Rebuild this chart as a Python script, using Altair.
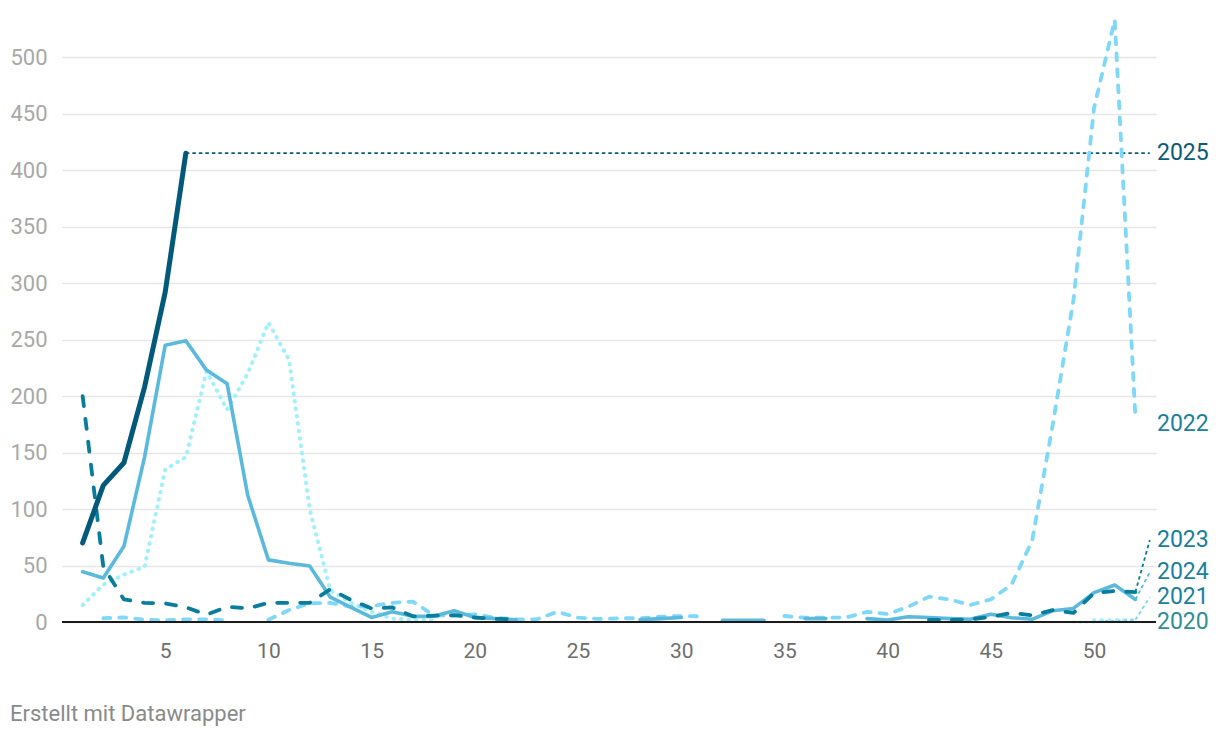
import altair as alt
import pandas as pd

N = None
weeks = list(range(1, 53))
years = ["2020", "2021", "2022", "2023", "2024", "2025"]

y2025 = [70, 121, 141, 208, 292, 415]
y2024 = [44.5, 39, 67, 146, 245, 249, 223, 211, 112, 55, 52, 49.5, 22, 13, 4, 9, 5, 5, 10, 4, 3, 2,
         N, N, N, N, N, 2, 3, 4, N, 1.5, 1.5, 1.5, N, 3, 3, N,
         3, 1.8, 4.7, 4, 3, 2.4, 6.8, 3.8, 2.4, 10, 12, 26, 32.7, 20]
y2023 = [200, 49, 20, 17, 16.5, 13, 6.5, 13.5, 12, 17, 17, 17, 29, 19.5, 12, 13, 5, 5.6, 6, 4, 2.7, 2.5,
         N, N, N, N, N, N, N, N, N, N, N, N, N, N, N, N, N, N, N,
         1.8, 1.8, 2.4, 4.5, 8, 6, 10.5, 8, 25.7, 27.4, 26.5]
y2022 = [N, 3.3, 4, 2, 1.5, 2.4, 2.4, 1.5, N,
         2, 10.6, 16.5, 17, 13.5, 14, 17, 18, 6, 5.6, 6.8, 3.8, 2.4, 2.4, 9, 3.8, 2.7, 3.3, 3.3, 4.7, 5.3, 5,
         N, N, N,
         5.3, 3.8, 3.8, 4, 9, 7, 13.5, 22.4, 20, 15, 20, 33, 72, 175, 285, 455, 533, 182]
y2021 = [N] * 48 + [0, 0, 1, 2]
y2020 = [15, 33, 42, 49, 135, 146, 222, 188, 220, 265, 232, 100, 28, 17, 9, 3, 2, 1] + [N] * 31 + [1.5, 1.5, 1.5]

series_values = {"2020": y2020, "2021": y2021, "2022": y2022, "2023": y2023, "2024": y2024, "2025": y2025}

# label positions (value units, after overlap avoidance)
label_years = ["2025", "2022", "2023", "2024", "2021", "2020"]
label_values = [415, 175, 72.6, 44, 22, 0]
label_colors = ["#0b5b79", "#1b7f9e", "#167f9d", "#1b809e", "#1b809e", "#2f8f95"]

x_ticks = [5, 10, 15, 20, 25, 30, 35, 40, 45, 50]
y_ticks = [0, 50, 100, 150, 200, 250, 300, 350, 400, 450, 500]

styles = {
    "2020": dict(color="#9ef1fd", strokeWidth=4, strokeDash=[0.5, 7]),
    "2021": dict(color="#7fd6f2", strokeWidth=2.5, strokeDash=[0.5, 6]),
    "2022": dict(color="#80d8f8", strokeWidth=3.8, strokeDash=[7, 9]),
    "2024": dict(color="#5ab9dc", strokeWidth=3.6),
    "2023": dict(color="#0a7c9c", strokeWidth=3.8, strokeDash=[10, 13]),
    "2025": dict(color="#03597a", strokeWidth=5),
}

rows = []
for yr, vals in series_values.items():
    seg = 0
    for i, v in enumerate(vals):
        if v is None:
            seg += 1
            continue
        rows.append({"year": yr, "week": weeks[i], "value": v, "seg": f"{yr}-{seg}"})
df = pd.DataFrame(rows)

xs = alt.Scale(domain=[0, 53], nice=False, zero=False)
ys = alt.Scale(domain=[0, 540], nice=False)
ax_x = alt.Axis(values=x_ticks, ticks=False, domain=False, grid=False, title=None,
                labelFontSize=21, labelColor="#6e6e6e", labelPadding=18, labelFont="Roboto")
ax_y = alt.Axis(values=y_ticks, ticks=False, domain=False, grid=True, title=None,
                gridColor="#e6e6e6", gridWidth=1.5, labelFontSize=22, labelColor="#a8a8a8",
                labelPadding=15, labelFont="Roboto")

layers = []
for yr in ["2020", "2021", "2022", "2024", "2023", "2025"]:
    d = df[df.year == yr]
    layers.append(
        alt.Chart(d).mark_line(strokeCap="round", strokeJoin="round", **styles[yr]).encode(
            x=alt.X("week:Q", scale=xs, axis=ax_x),
            y=alt.Y("value:Q", scale=ys, axis=ax_y),
            detail="seg:N",
        )
    )

# connectors from series end to label
conn_rows = []
for yr, lv, col in zip(label_years, label_values, label_colors):
    vals = series_values[yr]
    last_i = max(i for i, v in enumerate(vals) if v is not None)
    last_v = vals[last_i]
    if abs(last_v - lv) < 8 and weeks[last_i] >= 52:
        continue
    conn_rows.append({"year": yr, "x": weeks[last_i], "y": last_v, "x2": 52.7, "y2": lv,
                      "color": styles[yr]["color"] if yr != "2025" else "#0b5b79"})
conn_df = pd.DataFrame(conn_rows)
connectors = alt.Chart(conn_df).mark_rule(strokeWidth=1.8, strokeDash=[3.5, 3]).encode(
    x=alt.X("x:Q", scale=xs, axis=ax_x),
    y=alt.Y("y:Q", scale=ys, axis=ax_y),
    x2="x2:Q",
    y2="y2:Q",
    color=alt.Color("color:N", scale=None),
)

baseline = alt.Chart(pd.DataFrame({"v": [0]})).mark_rule(color="#1a1a1a", strokeWidth=2.2).encode(
    y=alt.Y("v:Q", scale=ys, axis=ax_y)
)

lab_df = pd.DataFrame({"year": label_years, "value": label_values, "color": label_colors,
                       "week": [53] * len(label_years)})
labels = alt.Chart(lab_df).mark_text(align="left", baseline="middle", dx=1, fontSize=23,
                                     font="Roboto").encode(
    x=alt.X("week:Q", scale=xs, axis=ax_x),
    y=alt.Y("value:Q", scale=ys, axis=ax_y),
    text="year:N",
    color=alt.Color("color:N", scale=None),
)

credit = alt.Chart(pd.DataFrame({"t": ["Erstellt mit Datawrapper"]})).mark_text(
    align="left", baseline="alphabetic", fontSize=22, font="Roboto", color="#8a8a8a"
).encode(text="t:N", x=alt.value(-52), y=alt.value(709))

chart = alt.layer(connectors, *layers, baseline, labels, credit).properties(
    width=1094, height=610,
    padding={"left": 54, "top": 4, "right": 56, "bottom": 112},
    autosize=alt.AutoSizeParams(type="none"),
    background="white",
).configure_view(stroke=None)

chart.save("out.html", embed_options={"renderer": "svg", "actions": False})
